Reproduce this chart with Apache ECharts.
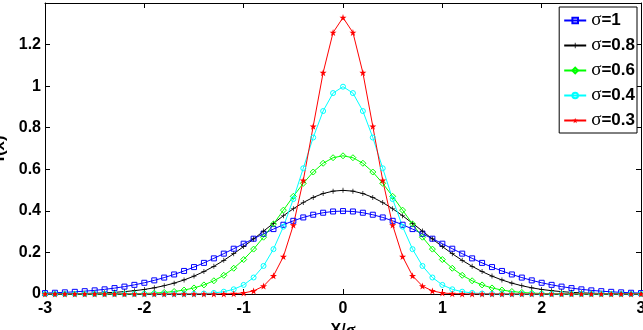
<!DOCTYPE html>
<html>
<head>
<meta charset="utf-8">
<script src="https://cdn.jsdelivr.net/npm/echarts@6/dist/echarts.min.js"></script>
<style>
    html, body { margin: 0; padding: 0; background: #fff; }
    #chart { width: 643px; height: 330px; }
</style>
</head>
<body>
<div id="chart"></div>
<script>
    // x 轴取值
    var xVals = [-3.0,-2.9,-2.8,-2.7,-2.6,-2.5,-2.4,-2.3,-2.2,-2.1,-2.0,-1.9,-1.8,-1.7,-1.6,-1.5,-1.4,-1.3,-1.2,-1.1,-1.0,-0.9,-0.8,-0.7,-0.6,-0.5,-0.4,-0.3,-0.2,-0.1,
        0.0,0.1,0.2,0.3,0.4,0.5,0.6,0.7,0.8,0.9,1.0,1.1,1.2,1.3,1.4,1.5,1.6,1.7,1.8,1.9,2.0,2.1,2.2,2.3,2.4,2.5,2.6,2.7,2.8,2.9,3.0];
    var seriesNames = ['σ=1', 'σ=0.8', 'σ=0.6', 'σ=0.4', 'σ=0.3'];
    var ySigma10 = [0.0044,0.0060,0.0079,0.0104,0.0136,0.0175,0.0224,0.0283,0.0355,0.0440,0.0540,0.0656,0.0790,0.0940,0.1109,0.1295,0.1497,0.1714,0.1942,0.2179,0.2420,0.2661,0.2897,0.3123,0.3332,0.3521,0.3683,0.3814,0.3910,0.3970,
        0.3989,0.3970,0.3910,0.3814,0.3683,0.3521,0.3332,0.3123,0.2897,0.2661,0.2420,0.2179,0.1942,0.1714,0.1497,0.1295,0.1109,0.0940,0.0790,0.0656,0.0540,0.0440,0.0355,0.0283,0.0224,0.0175,0.0136,0.0104,0.0079,0.0060,0.0044];
    var ySigma08 = [0.0004,0.0007,0.0011,0.0017,0.0025,0.0038,0.0055,0.0080,0.0114,0.0159,0.0219,0.0297,0.0397,0.0522,0.0675,0.0860,0.1078,0.1332,0.1619,0.1938,0.2283,0.2648,0.3025,0.3401,0.3764,0.4102,0.4401,0.4648,0.4833,0.4948,
        0.4987,0.4948,0.4833,0.4648,0.4401,0.4102,0.3764,0.3401,0.3025,0.2648,0.2283,0.1938,0.1619,0.1332,0.1078,0.0860,0.0675,0.0522,0.0397,0.0297,0.0219,0.0159,0.0114,0.0080,0.0055,0.0038,0.0025,0.0017,0.0011,0.0007,0.0004];
    var ySigma06 = [0,0,0,0,0.0001,0.0001,0.0002,0.0004,0.0008,0.0015,0.0026,0.0044,0.0074,0.0120,0.0190,0.0292,0.0437,0.0636,0.0900,0.1239,0.1658,0.2159,0.2733,0.3367,0.4033,0.4698,0.5324,0.5868,0.6290,0.6557,
        0.6649,0.6557,0.6290,0.5868,0.5324,0.4698,0.4033,0.3367,0.2733,0.2159,0.1658,0.1239,0.0900,0.0636,0.0437,0.0292,0.0190,0.0120,0.0074,0.0044,0.0026,0.0015,0.0008,0.0004,0.0002,0.0001,0.0001,0,0,0,0];
    var ySigma04 = [0,0,0,0,0,0,0,0,0,0,0,0,0,0.0001,0.0003,0.0009,0.0022,0.0051,0.0111,0.0227,0.0438,0.0794,0.1350,0.2157,0.3238,0.4566,0.6049,0.7528,0.8802,0.9667,
        0.9974,0.9667,0.8802,0.7528,0.6049,0.4566,0.3238,0.2157,0.1350,0.0794,0.0438,0.0227,0.0111,0.0051,0.0022,0.0009,0.0003,0.0001,0,0,0,0,0,0,0,0,0,0,0,0,0];
    var ySigma03 = [0,0,0,0,0,0,0,0,0,0,0,0,0,0,0,0,0,0.0001,0.0004,0.0016,0.0051,0.0148,0.0380,0.0874,0.1800,0.3316,0.5467,0.8066,1.0648,1.2579,
        1.3298,1.2579,1.0648,0.8066,0.5467,0.3316,0.1800,0.0874,0.0380,0.0148,0.0051,0.0016,0.0004,0.0001,0,0,0,0,0,0,0,0,0,0,0,0,0,0,0,0,0];
    var xTicks = [-3, -2, -1, 0, 1, 2, 3];
    var yTicks = [0, 0.2, 0.4, 0.6, 0.8, 1, 1.2];

    var allY = [ySigma10, ySigma08, ySigma06, ySigma04, ySigma03];
    var colors = ['#0000ff', '#000000', '#00ff00', '#00ffff', '#ff0000'];
    var plusPath = 'path://M4.3,0h1.4v4.3h4.3v1.4h-4.3v4.3h-1.4v-4.3h-4.3v-1.4h4.3z';
    var starPath = 'path://M0,-10L2.245,-3.09L9.51,-3.09L3.633,1.18L5.88,8.09L0,3.82L-5.88,8.09L-3.633,1.18L-9.51,-3.09L-2.245,-3.09Z';
    var symbols = ['rect', plusPath, 'diamond', 'circle', starPath];
    var sizes = [5, 5, 6, 5, 7];
    var hollow = [true, false, true, true, false];

    var font = 'Liberation Sans, Arial, sans-serif';

    function pairs(ys) {
        var out = [];
        for (var i = 0; i < xVals.length; i++) out.push([xVals[i], ys[i]]);
        return out;
    }

    var series = [];
    for (var k = 0; k < seriesNames.length; k++) {
        series.push({
            name: seriesNames[k],
            type: 'line',
            data: pairs(allY[k]),
            symbol: symbols[k],
            symbolSize: sizes[k],
            showAllSymbol: true,
            lineStyle: { color: colors[k], width: 1 },
            itemStyle: hollow[k]
                ? { color: 'rgba(255,255,255,0)', borderColor: colors[k], borderWidth: 1 }
                : { color: colors[k], borderWidth: 0 },
            emphasis: { disabled: true }
        });
    }

    var myChart = echarts.init(document.getElementById('chart'), null, { renderer: 'canvas' });
    var option = {
        animation: false,
        backgroundColor: '#ffffff',
        grid: { left: 45, right: 2, top: 3, bottom: 36, outerBoundsMode: 'none', containLabel: false },
        legend: {
            orient: 'vertical',
            right: 6,
            top: 7,
            padding: [4, 2, 3, 4],
            backgroundColor: '#ffffff',
            borderColor: '#000000',
            borderWidth: 1,
            borderRadius: 0,
            itemWidth: 22,
            itemHeight: 7,
            itemGap: 6,
            data: seriesNames,
            formatter: function (name) {
                return '{s|σ}{b|' + name.slice(1) + '}';
            },
            textStyle: {
                rich: {
                    s: { fontFamily: 'Liberation Serif, serif', fontSize: 19, color: '#000', lineHeight: 16 },
                    b: { fontFamily: font, fontWeight: 'bold', fontSize: 17, color: '#000', lineHeight: 16 }
                }
            }
        },
        xAxis: [{
            type: 'value',
            min: -3, max: 3, interval: 1,
            name: 'X/{s|σ}',
            nameLocation: 'middle',
            nameGap: 23,
            nameTextStyle: {
                fontFamily: font, fontWeight: 'bold', fontSize: 16, color: '#000',
                rich: { s: { fontFamily: 'Liberation Serif, serif', fontSize: 18, color: '#000' } }
            },
            axisLine: { show: true, onZero: false, lineStyle: { color: '#000', width: 1 } },
            axisTick: { show: true, inside: true, length: 5, lineStyle: { color: '#000' } },
            axisLabel: {
                margin: 7, color: '#000', fontFamily: font, fontWeight: 'bold', fontSize: 16,
                formatter: function (v) { return xTicks.indexOf(v) >= 0 ? String(v) : ''; }
            },
            splitLine: { show: false }
        }, {
            type: 'value', position: 'top',
            min: -3, max: 3, interval: 1,
            axisLine: { show: true, onZero: false, lineStyle: { color: '#000', width: 1 } },
            axisTick: { show: true, inside: true, length: 5, lineStyle: { color: '#000' } },
            axisLabel: { show: false },
            splitLine: { show: false }
        }],
        yAxis: [{
            type: 'value',
            min: 0, max: 1.4, interval: 0.2,
            name: 'f(x)',
            nameLocation: 'middle',
            nameGap: 35,
            nameRotate: 90,
            nameTextStyle: { fontFamily: font, fontWeight: 'bold', fontSize: 17, color: '#000' },
            axisLine: { show: true, onZero: false, lineStyle: { color: '#000', width: 1 } },
            axisTick: { show: true, inside: true, length: 5, lineStyle: { color: '#000' } },
            axisLabel: {
                margin: 4, color: '#000', fontFamily: font, fontWeight: 'bold', fontSize: 16,
                showMaxLabel: false,
                formatter: function (v) {
                    var r = Math.round(v * 10) / 10;
                    return yTicks.indexOf(r) >= 0 ? String(r) : '';
                }
            },
            splitLine: { show: false }
        }, {
            type: 'value', position: 'right',
            min: 0, max: 1.4, interval: 0.2,
            axisLine: { show: true, onZero: false, lineStyle: { color: '#000', width: 1 } },
            axisTick: { show: true, inside: true, length: 5, lineStyle: { color: '#000' } },
            axisLabel: { show: false },
            splitLine: { show: false }
        }],
        series: series
    };
    myChart.setOption(option, true);
</script>
</body>
</html>
